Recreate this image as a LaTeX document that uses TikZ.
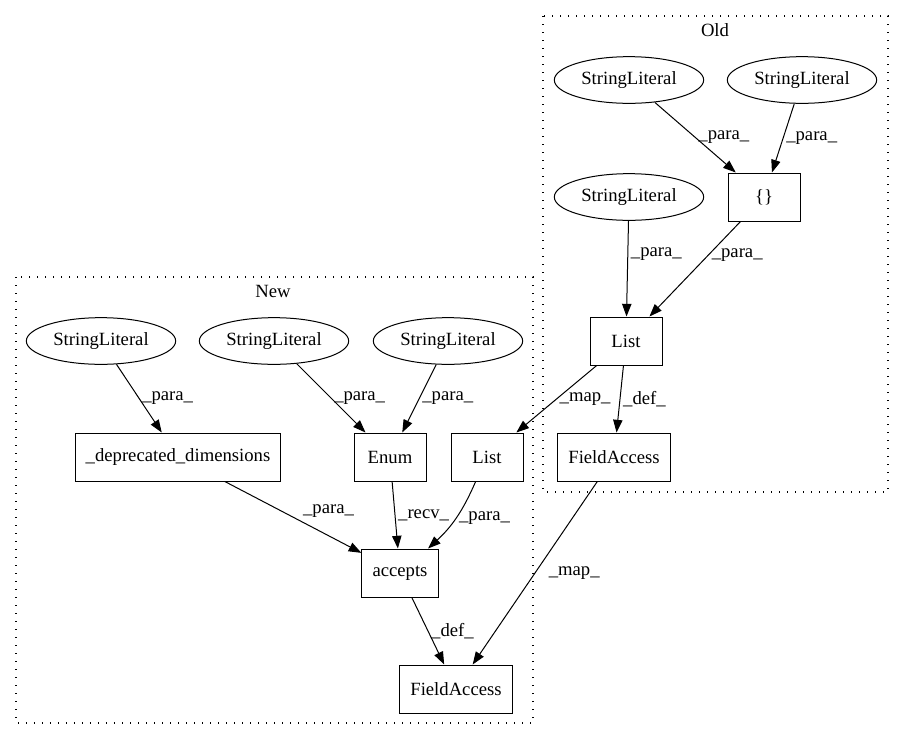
\documentclass[tikz,border=0pt]{standalone}
\usepackage{fontspec}
\setmainfont{Liberation Serif}
\usetikzlibrary{arrows.meta,shapes.geometric}

\begin{document}
\begin{tikzpicture}[x=0.75pt, y=-0.75pt,
    every node/.style={font=\fontsize{14}{16}\selectfont},
    lit/.style={draw, ellipse, minimum width=112pt, minimum height=35pt, inner sep=0pt},
    op/.style={draw, rectangle, minimum width=54pt, minimum height=36pt, inner xsep=8pt, inner ysep=0pt},
    grp/.style={draw, line width=0.9pt, dash pattern=on 0.9pt off 5.1pt},
    edge/.style={line width=0.75pt, -{Triangle[length=9.5pt, width=7pt]}},
    lbl/.style={inner sep=2pt}]
    \useasboundingbox (0,0) rectangle (904,740);
    \tikzset{every path/.append style={line width=0.75pt}}

    % Old
    \draw[grp] (543,16) rectangle (888,492);
    \node (old) at (715,30) {Old};
    \node[lit] (s1) at (629,80) {StringLiteral};
    \node[lit] (s2) at (802,80) {StringLiteral};
    \node[lit] (s3) at (629,197) {StringLiteral};
    \node[op] (br) at (764,197) {\{\}};
    \node[op] (l1) at (626,341) {List};
    \node[op] (f1) at (614,457) {FieldAccess};
    \draw[edge] (s1) -- node[lbl, right] {\_para\_} (br);
    \draw[edge] (s2) -- node[lbl, right] {\_para\_} (br);
    \draw[edge] (s3) -- node[lbl, right, pos=0.35] {\_para\_} (l1);
    \draw[edge] (br) -- node[lbl, right, pos=0.35] {\_para\_} (l1);
    \draw[edge] (l1) -- node[lbl, right] {\_def\_} (f1);

    % New
    \draw[grp] (16,277) rectangle (533,723);
    \node (new) at (273,291) {New};
    \node[lit] (t1) at (101,341) {StringLiteral};
    \node[lit] (t2) at (274,341) {StringLiteral};
    \node[lit] (t3) at (448,341) {StringLiteral};
    \node[op] (dep) at (178,457) {\_deprecated\_dimensions};
    \node[op] (en) at (390,457) {Enum};
    \node[op] (l2) at (487,457) {List};
    \node[op] (acc) at (400,573) {accepts};
    \node[op] (f2) at (456,689) {FieldAccess};
    \draw[edge] (t1) -- node[lbl, right] {\_para\_} (dep);
    \draw[edge] (t2) -- node[lbl, right] {\_para\_} (en);
    \draw[edge] (t3) -- node[lbl, right] {\_para\_} (en);
    \draw[edge] (dep) -- node[lbl, pos=0.55, anchor=south west] {\_para\_} (acc);
    \draw[edge] (en) -- node[lbl, right] {\_recv\_} (acc);
    \draw[edge] (l2) to[bend left=12] node[lbl, right] {\_para\_} (acc);
    \draw[edge] (acc) -- node[lbl, right] {\_def\_} (f2);

    % between
    \draw[edge] (l1) -- node[lbl, right] {\_map\_} (l2);
    \draw[edge] (f1) -- node[lbl, right=8pt] {\_map\_} (f2);
\end{tikzpicture}
\end{document}
